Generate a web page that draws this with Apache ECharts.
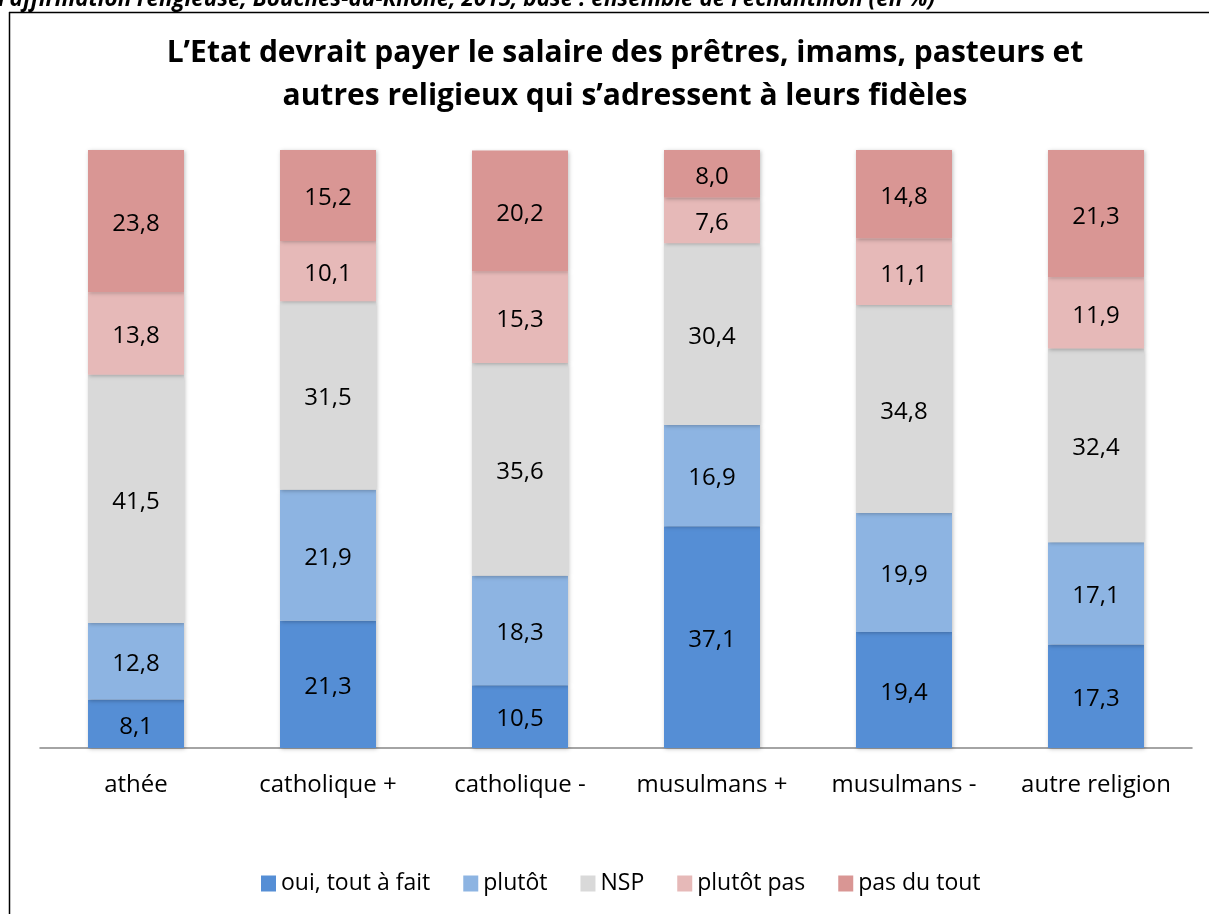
<!DOCTYPE html>
<html>
<head>
<meta charset="utf-8">
<script src="https://cdn.jsdelivr.net/npm/echarts@6/dist/echarts.min.js"></script>
<style>
  html, body { margin: 0; padding: 0; background: #fff; }
  #main { width: 1209px; height: 914px; }
</style>
</head>
<body>
<div id="main"></div>
<script>
var categories = ['athée', 'catholique +', 'catholique -', 'musulmans +', 'musulmans -', 'autre religion'];
var seriesNames = ['oui, tout à fait', 'plutôt', 'NSP', 'plutôt pas', 'pas du tout'];
var ouiTout = [8.1, 21.3, 10.5, 37.1, 19.4, 17.3];
var plutot = [12.8, 21.9, 18.3, 16.9, 19.9, 17.1];
var nsp = [41.5, 31.5, 35.6, 30.4, 34.8, 32.4];
var plutotPas = [13.8, 10.1, 15.3, 7.6, 11.1, 11.9];
var pasDuTout = [23.8, 15.2, 20.2, 8.0, 14.8, 21.3];

var colors = ['#558ED5', '#8DB4E2', '#D9D9D9', '#E6B9B8', '#D99694'];
var values = [ouiTout, plutot, nsp, plutotPas, pasDuTout];
var font = 'Open Sans';

var chartDom = document.getElementById('main');
var myChart = echarts.init(chartDom);
var option;

option = {
  color: colors,
  textStyle: { fontFamily: font },
  title: {
    text: 'L\u2019Etat devrait payer le salaire des prêtres, imams, pasteurs et\nautres religieux qui s\u2019adressent à leurs fidèles',
    left: 620,
    top: 27,
    textAlign: 'center',
    textStyle: { fontSize: 30, fontWeight: 'bold', color: '#000', lineHeight: 43, fontFamily: font }
  },
  legend: {
    data: seriesNames,
    bottom: 14,
    left: 256,
    icon: 'rect',
    itemWidth: 15,
    itemHeight: 16,
    itemGap: 33,
    textStyle: { fontSize: 23, color: '#000', fontFamily: font }
  },
  grid: { left: 40, right: 17, top: 150, bottom: 166 },
  xAxis: {
    type: 'category',
    data: categories,
    axisLine: { lineStyle: { color: '#868686', width: 1.5 } },
    axisTick: { show: false },
    axisLabel: { fontSize: 24, color: '#000', margin: 25, interval: 0 }
  },
  yAxis: {
    type: 'value',
    min: 0,
    max: 100,
    show: false
  },
  graphic: [
    {
      type: 'text',
      left: -2,
      top: -12,
      style: {
        text: 'l\u2019affirmation religieuse, Bouches-du-Rhône, 2015, base : ensemble de l\u2019échantillon (en %)',
        font: 'italic bold 22.5px "Open Sans"',
        fill: '#000'
      }
    },
    {
      type: 'line',
      shape: { x1: 9, y1: 12.5, x2: 1209, y2: 12.5 },
      style: { stroke: '#000', lineWidth: 1.5 }
    },
    {
      type: 'line',
      shape: { x1: 9.5, y1: 12, x2: 9.5, y2: 914 },
      style: { stroke: '#000', lineWidth: 1.5 }
    }
  ],
  series: seriesNames.map(function (name, i) {
    return {
      name: name,
      type: 'bar',
      stack: 'total',
      barWidth: '50%',
      data: values[i],
      itemStyle: {
        color: colors[i],
        shadowColor: 'rgba(0,0,0,0.25)',
        shadowBlur: 4,
        shadowOffsetX: 1,
        shadowOffsetY: 1
      },
      label: {
        show: true,
        position: 'inside',
        offset: [0, 3],
        fontSize: 24,
        color: '#000',
        formatter: function (p) { return p.value.toFixed(1).replace('.', ','); }
      }
    };
  })
};

option && myChart.setOption(option);
</script>
</body>
</html>
